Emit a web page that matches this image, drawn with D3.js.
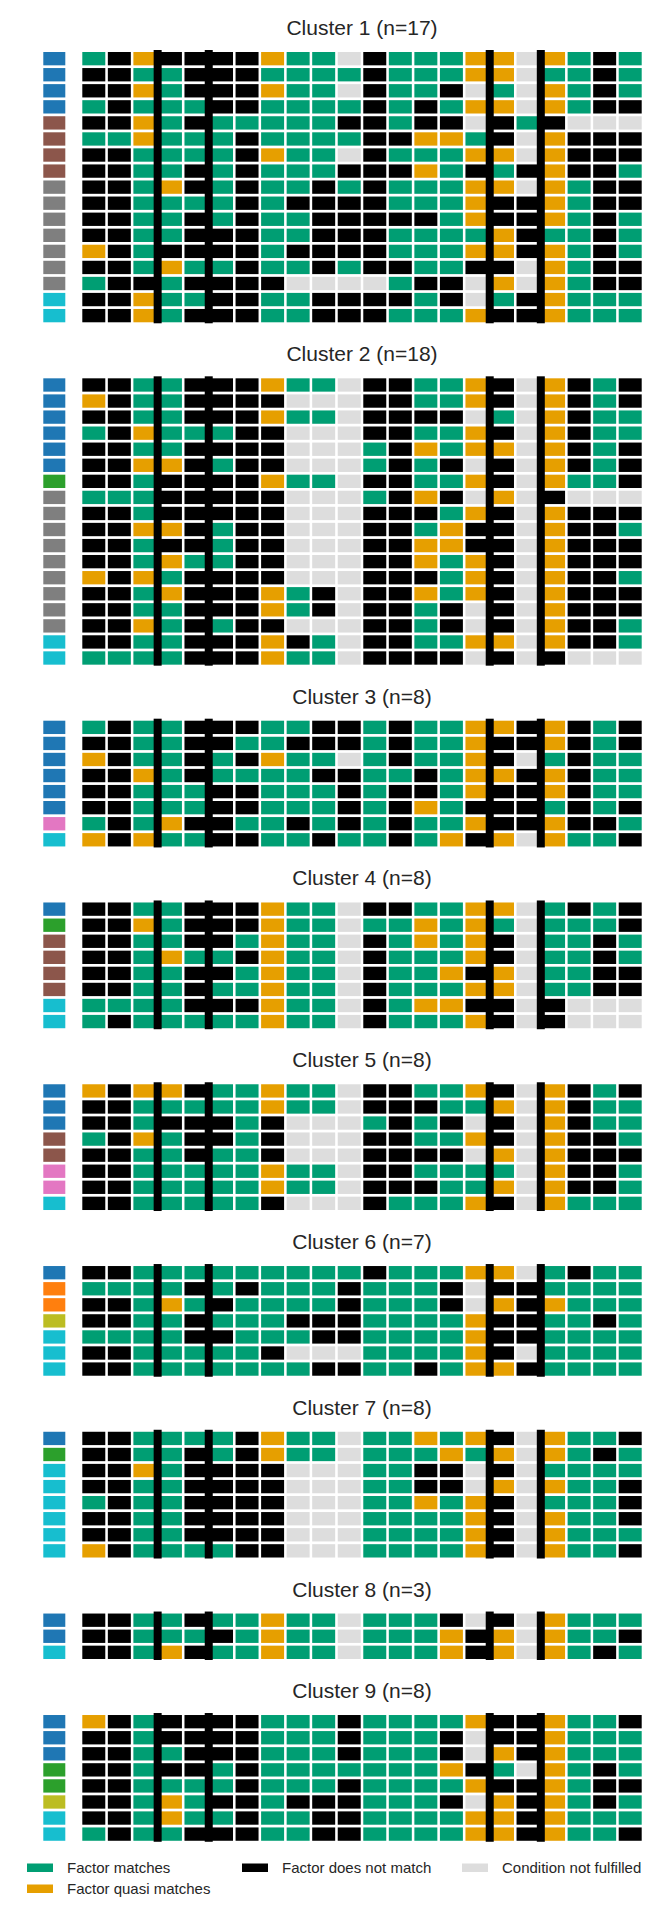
<!DOCTYPE html>
<html>
<head>
<meta charset="utf-8">
<script src="https://cdn.jsdelivr.net/npm/d3@7"></script>
<style>
  body { margin: 0; background: #fff; }
  text { font-family: "Liberation Sans", Arial, sans-serif; fill: #262626; }
</style>
</head>
<body>
<script>
// codici: G = factor matches, O = quasi matches, K = does not match, L = condition not fulfilled
var statusKeys = ['G', 'O', 'K', 'L'];
var statusLabels = ['Factor matches', 'Factor quasi matches', 'Factor does not match', 'Condition not fulfilled'];
var statusColors = ['#009e73', '#e69f00', '#000000', '#dddddd'];

var groupKeys = ['blue', 'orange', 'green', 'brown', 'pink', 'gray', 'olive', 'cyan'];
var groupColors = ['#1f77b4', '#ff7f0e', '#2ca02c', '#8c564b', '#e377c2', '#7f7f7f', '#bcbd22', '#17becf'];

var clusterNames = ['Cluster 1 (n=17)', 'Cluster 2 (n=18)', 'Cluster 3 (n=8)', 'Cluster 4 (n=8)', 'Cluster 5 (n=8)',
  'Cluster 6 (n=7)', 'Cluster 7 (n=8)', 'Cluster 8 (n=3)', 'Cluster 9 (n=8)'];

// colonne dopo cui c'e' la linea spessa (indice 0-based)
var dividerAfter = [2, 4, 15, 17];

var cluster1 = [
  'GKOKKKKOGGLKGGGOOLOGKG', 'KKGGKKKGGGGKGGGOOLGGKG', 'KKOGKKKOGGLKGGKLGLOGKG', 'GKGGGKKGGGGKGKGOOLOGKK',
  'KKOGKGGGGGKKGKKLKGKLLL', 'GGOGGGKGGGGKKOOGKLOKKK', 'KKGGGGKOGGLKGGGOOLOKKK', 'KKGGKGKGGGKKKOGKGKOKKG',
  'KKGOKGKGGKGKGGGOOLOGKK', 'KKGGGGKGKKKKGGGOKKOGKK', 'KKGGKGKGGKKKKKGOKKOGKG', 'KKGGKKKGGKKKGGGGOKGGKG',
  'OKGKKKKGKKKKGGGOOKOGKG', 'KKGOGGKGGKGKKGGKKLOGKK', 'GKKGKKKKLLLLGKKLOLOGKK', 'KKOGGKKGGKKKKGKLGKOGGG',
  'KKOGKKKGGKKKGGGOKKOGGG'];
var groups1 = ['blue', 'blue', 'blue', 'blue', 'brown', 'brown', 'brown', 'brown', 'gray', 'gray', 'gray', 'gray',
  'gray', 'gray', 'gray', 'cyan', 'cyan'];

var cluster2 = [
  'KKGGKKKOGGLKKGGOKLOKGK', 'OKGGKKKKLLLKKGGOKLOKGK', 'KKGGKKKOGGLKKKKLGLOKGG', 'GKOGGGKKLLLKKGGOKLOKGG',
  'KKGGKKKKLLLGKOGOOLOKGK', 'KKOOKGKKLLLGKGKLKLOKGK', 'KKGKKKKOGGLKKGGOKLOGGK', 'GGGKKKKKLLLGKOKLOLKLLL',
  'KKGKKKKKLLLKKKGOKLOKKK', 'KKOOKGKKLLLKKGOKKLOKKG', 'KKGKKGKKLLLKKOOKKLOKKK', 'KKGOGGKKLLLKKOGOKLOKKK',
  'OKOGKKKKLLLKKKGOKLOKKG', 'KKGOKKKOGKLKKOGOKLOKKK', 'KKGGKKKOGKLKKGKLKLOKKK', 'KKOGKGKKLLLKKGKLKLOKKG',
  'KKGGKKKOKGLKKGGOOLOKKG', 'GGGGKKKOGGLKKKKLKLKLLL'];
var groups2 = ['blue', 'blue', 'blue', 'blue', 'blue', 'blue', 'green', 'gray', 'gray', 'gray', 'gray', 'gray',
  'gray', 'gray', 'gray', 'gray', 'cyan', 'cyan'];

var cluster3 = [
  'GKGGKKKGGKKGKGGOOKOKGK', 'KKGGKKGGKKKGKGGOKKOKGK', 'OKGGKGKOGGLGKGGOKLGKGG', 'KKOGKGGGGKKGGKGOOKOKGG',
  'KKGGGKKGGGKGKKGOKKOKGG', 'KKGGGKKGGGKGKOGKKKGKGK', 'GKGOKKGGKGKGKGGOKKOKKG', 'OKOGGKKGGKGGKGOKOLOGGK'];
var groups3 = ['blue', 'blue', 'blue', 'blue', 'blue', 'blue', 'pink', 'cyan'];

var cluster4 = [
  'KKGGKKKOGGLKKGGOOLGKGK', 'KKOGKKKOGGLGGOGOGLGGGK', 'KKGGKKGOGGLKGOGOKLGGKG', 'KKGOGGKOGGLKGGGOKLGGKG',
  'KKGGKKGOGGLKGGOKOLGGKK', 'KKGGKGGOGGLKGGGOOLGGKK', 'GGGGKKKOGGLKGOOKKLKLLL', 'GKGGGGGOGGLKGGGOKLKLLL'];
var groups4 = ['blue', 'green', 'brown', 'brown', 'brown', 'brown', 'cyan', 'cyan'];

var cluster5 = [
  'OKOOKGGOGGLKKGGOKLOKGK', 'KKGGGGGOGGLKKKGGOLOKGG', 'KKGKKKGKLLLGKGKLKLOKGG', 'GKOGKKGKLLLKKGGOKLOKKG',
  'KKGGKGGKLLLKKKKLOLOKKK', 'KKGGGGGOGGLKKGGGGLOKKG', 'KKGGGGGOGGLKKKGGOLOKKG', 'KKGGGGGKLLLKGGGOKLOGGG'];
var groups5 = ['blue', 'blue', 'blue', 'brown', 'brown', 'pink', 'pink', 'cyan'];

var cluster6 = [
  'KKGGGGGGGGGKGGGOOLGKGG', 'GGGGKGKGGGKGGGKLKKGGGG', 'KKGOGKGGGGKGGGKLOKOGGG', 'KKGGKGGGKKKGGGGOKKGGKG',
  'GGGGKKGGGKKGGGGOKKGGGG', 'KKGGGGGKLLLGGGGOKLGGGG', 'KKGGGGGGGKKGGKGOOKGGGG'];
var groups6 = ['blue', 'orange', 'orange', 'olive', 'cyan', 'cyan', 'cyan'];

var cluster7 = [
  'KKGGGGKOGGLGGOGOKLOGGK', 'KKGGKGKOGGLGGGOGOLOGKG', 'KKOGKKKKLLLGGKKLKLGGGG', 'KKGGKKKKLLLGGKKLOLOGGK',
  'GKGGKKKKLLLGGOGOKLGGGK', 'KKGGKKKKLLLGGGGOKLOGGK', 'KKGGKKKKLLLGGGGOKLOGGG', 'OKGGGGKKLLLGGGGOKLOGGK'];
var groups7 = ['blue', 'green', 'cyan', 'cyan', 'cyan', 'cyan', 'cyan', 'cyan'];

var cluster8 = ['KKGGKGGOGGLGGGKLKLOGGG', 'KKGGGKGOGGLGGGOKOLOGGK', 'KKGOKGGOGGLGGGOKOLOGKG'];
var groups8 = ['blue', 'blue', 'cyan'];

var cluster9 = [
  'OKGKKKKGGGKGGGGOKKOGGK', 'KKGKKKKGGGKGGGKLKKOGGG', 'KKGGKKKGGGKGGGKLOKOGGG', 'KKGKKGKGGGGGGGOKGLOGKG',
  'KKGGGGKGGGKGGGGOKKOGKK', 'KKGOGKKGKKKGGGKLOKOGKG', 'KKGOGGKGGKKGGGGOOKOGGG', 'GKGGKKKGGKKGGGGOOKOGGK'];
var groups9 = ['blue', 'blue', 'blue', 'green', 'green', 'olive', 'cyan', 'cyan'];

var clusterRows = [cluster1, cluster2, cluster3, cluster4, cluster5, cluster6, cluster7, cluster8, cluster9];
var clusterGroups = [groups1, groups2, groups3, groups4, groups5, groups6, groups7, groups8, groups9];

var width = 666;
var height = 1922;
var nCols = 22;
var rowStep = 16.06;
var rowPad = 0.17;
var firstTop = 52;
var clusterGap = 53.3;

var svg = d3.select('body').append('svg')
  .attr('width', width)
  .attr('height', height);

// scale delle colonne e dei colori
var x = d3.scaleBand().domain(d3.range(nCols)).range([82.3, 641.7]).paddingInner(0.1).paddingOuter(0);
var statusColor = d3.scaleOrdinal().domain(statusKeys).range(statusColors);
var groupColor = d3.scaleOrdinal().domain(groupKeys).range(groupColors);
var gridCenter = (x.range()[0] + x.range()[1]) / 2;

var clusterTop = firstTop;
for (let c = 0; c < clusterRows.length; c++) {
  drawCluster(clusterRows[c], clusterGroups[c], clusterNames[c], clusterTop);
  clusterTop += clusterRows[c].length * rowStep + clusterGap;
}

// disegna un cluster
function drawCluster(rows, groups, name, y0) {
  let n = rows.length;
  let y = d3.scaleBand().domain(d3.range(n))
    .range([y0, y0 + rowStep * (n - rowPad)])
    .paddingInner(rowPad).paddingOuter(0);

  let g = svg.append('g').attr('class', 'cluster');

  g.append('text')
    .attr('x', gridCenter)
    .attr('y', y0 - 17)
    .attr('text-anchor', 'middle')
    .style('font-size', '21px')
    .text(name);

  // quadratini del gruppo
  g.selectAll('rect.group')
    .data(groups)
    .enter()
    .append('rect')
    .attr('class', 'group')
    .attr('x', 43.3)
    .attr('y', function (d, i) { return y(i) })
    .attr('width', 22)
    .attr('height', y.bandwidth())
    .style('fill', function (d) { return groupColor(d) });

  let cells = [];
  rows.forEach(function (r, i) {
    r.split('').forEach(function (s, j) { cells.push({ row: i, col: j, s: s }) });
  });

  g.selectAll('rect.cell')
    .data(cells)
    .enter()
    .append('rect')
    .attr('class', 'cell')
    .attr('x', function (d) { return x(d.col) })
    .attr('y', function (d) { return y(d.row) })
    .attr('width', x.bandwidth())
    .attr('height', y.bandwidth())
    .style('fill', function (d) { return statusColor(d.s) });

  // linee verticali spesse
  let half = (x.step() - x.bandwidth()) / 2;
  g.selectAll('rect.divider')
    .data(dividerAfter)
    .enter()
    .append('rect')
    .attr('class', 'divider')
    .attr('x', function (d) { return x(d + 1) - half - 4 })
    .attr('y', y0 - 2)
    .attr('width', 8)
    .attr('height', y(n - 1) + y.bandwidth() - y0 + 3)
    .style('fill', '#000');
}

// legenda
var legendCols = [[0, 1], [2], [3]];
var legendX = [27, 242, 462];
var legendY = [1863.5, 1884.5];
legendCols.forEach(function (col, ci) {
  col.forEach(function (k, ri) {
    svg.append('rect')
      .attr('x', legendX[ci])
      .attr('y', legendY[ri])
      .attr('width', 26)
      .attr('height', 8.5)
      .style('fill', statusColors[k]);
    svg.append('text')
      .attr('x', legendX[ci] + 40)
      .attr('y', legendY[ri] + 9.5)
      .style('font-size', '15px')
      .text(statusLabels[k]);
  });
});
</script>
</body>
</html>
